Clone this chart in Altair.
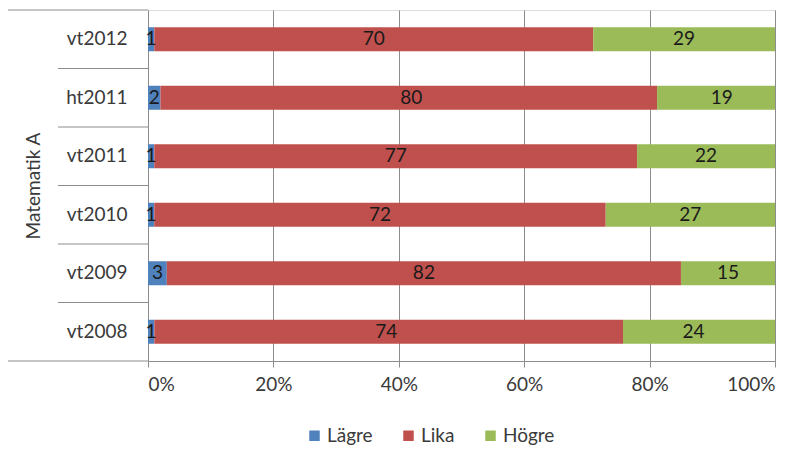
import altair as alt
import pandas as pd

terms = ["vt2012", "ht2011", "vt2011", "vt2010", "vt2009", "vt2008"]
categories = ["Lägre", "Lika", "Högre"]
lagre = [1, 2, 1, 1, 3, 1]
lika = [70, 80, 77, 72, 82, 74]
hogre = [29, 19, 22, 27, 15, 24]
colors = ["#4F81BD", "#C0504D", "#9BBB59"]

rows = []
for i, t in enumerate(terms):
    for j, (c, v) in enumerate(zip(categories, [lagre[i], lika[i], hogre[i]])):
        rows.append({"term": t, "cat": c, "value": v, "order": j})
df = pd.DataFrame(rows)

W, H = 627, 351
FONT = "Lato"
FS = 19
GRID = "#8c8c8c"
TXT = "#3a3a3a"

yenc = alt.Y("term:N", sort=terms, title="Matematik A",
             scale=alt.Scale(paddingInner=0, paddingOuter=0),
             axis=alt.Axis(ticks=False, labelPadding=21, labelFontSize=FS, labelFont=FONT,
                           labelColor=TXT, domainColor=GRID,
                           titleFont=FONT, titleFontSize=FS, titleFontWeight="normal",
                           titleColor=TXT, titleX=-115, titleY=H / 2,
                           titleAngle=-90, titleBaseline="middle", titleAlign="center"))

xscale = alt.Scale(domain=[0, 1], nice=False)

bars = alt.Chart(df).mark_bar(size=24).encode(
    x=alt.X("value:Q", stack="normalize", scale=xscale, title=None,
            axis=alt.Axis(format=".0%", values=[0, 0.2, 0.4, 0.6, 0.8, 1.0],
                          grid=True, gridColor=GRID, tickColor=GRID,
                          domainColor=GRID, tickSize=6, labelPadding=8,
                          labelFontSize=FS, labelFont=FONT, labelColor=TXT)),
    y=yenc,
    color=alt.Color("cat:N", scale=alt.Scale(domain=categories, range=colors),
                    legend=alt.Legend(title=None, orient="none", direction="horizontal",
                                      legendX=157, legendY=416, symbolType="square",
                                      symbolSize=110, symbolStrokeWidth=0,
                                      labelFontSize=FS, labelFont=FONT, labelColor=TXT,
                                      columnPadding=26, symbolOffset=0, labelOffset=3)),
    order=alt.Order("order:Q"),
)

texts = alt.Chart(df).transform_window(
    cum="sum(value)", groupby=["term"], sort=[alt.SortField("order")], frame=[None, 0]
).transform_calculate(
    mid="(datum.cum - datum.value / 2) / 100"
).mark_text(font=FONT, fontSize=FS, color="#1a1a1a", baseline="middle").encode(
    x=alt.X("mid:Q", scale=xscale),
    y=alt.Y("term:N", sort=terms),
    text=alt.Text("value:Q"),
)

seps = alt.Chart(pd.DataFrame({"term": terms[1:]})).mark_rule(color=GRID, strokeWidth=1).encode(
    y=alt.Y("term:N", sort=terms, bandPosition=0),
    x=alt.value(-90),
    x2=alt.value(0),
)

frame = alt.Chart(pd.DataFrame({"term": [terms[0], terms[-1]], "bp": [0, 1]})).mark_rule(
    color=GRID, strokeWidth=1
).encode(
    y=alt.value(0),
    x=alt.value(-140),
    x2=alt.value(0),
)
top_line = frame.transform_filter("datum.bp == 0")
bottom_line = frame.transform_filter("datum.bp == 1").encode(y=alt.value(H))

chart = alt.layer(bars, texts, seps, top_line, bottom_line).properties(
    width=W, height=H,
    autosize=alt.AutoSizeParams(type="none"),
    padding={"left": 140, "top": 2, "right": 25, "bottom": 85},
).configure_view(stroke=None).configure(background="white")

chart.save("out.html", embed_options={"renderer": "svg", "actions": False})
